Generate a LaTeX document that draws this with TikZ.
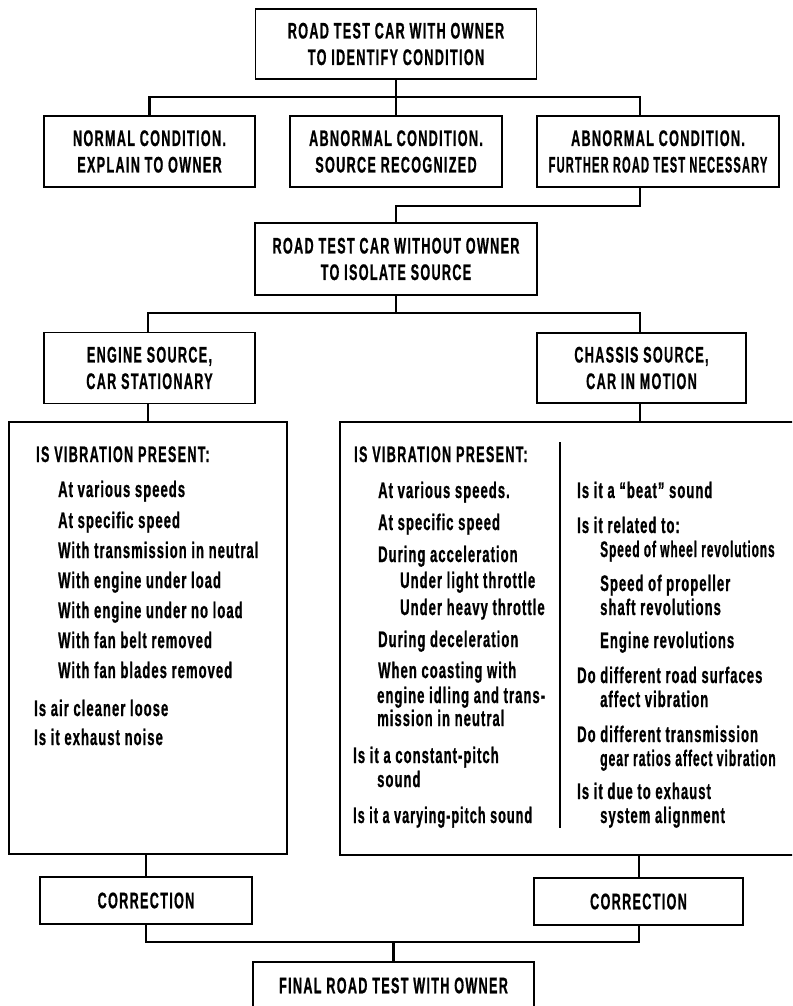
\documentclass[tikz,border=0pt]{standalone}
\usepackage{fontspec}
\usepackage{graphicx}
\setmainfont{Liberation Sans}
\newfontfamily\capsfam{Liberation Sans Bold}[FakeStretch=0.56, LetterSpace=5.9, FakeBold=0.8]
\newfontfamily\lowfam{Liberation Sans Bold}[FakeStretch=0.58, LetterSpace=4.6, FakeBold=0.8]
\newcommand{\capfont}{\capsfam\fontsize{22.5}{26.5}\selectfont}
\newcommand{\lowfont}{\lowfam\fontsize{22.5}{26.5}\selectfont}
\begin{document}
\begin{tikzpicture}[x=1pt,y=-1pt,
  box/.style={draw, line width=1.2pt, inner sep=0pt, align=center, font=\capfont},
  conn/.style={line width=2.4pt, line cap=rect},
  txt/.style={anchor=base west, inner sep=0pt, font=\lowfont},
  captxt/.style={anchor=base west, inner sep=0pt, font=\capfont},
  divider/.style={line width=2.4pt}]
\useasboundingbox (0,0) rectangle (792,1006);
\clip (0,0) rectangle (792,1006);
\fill[white] (0,0) rectangle (792,1006);

% boxes
\node[box, minimum width=281pt, minimum height=70pt] (top) at (396,44) {ROAD TEST CAR WITH OWNER\\TO IDENTIFY CONDITION};
\node[box, minimum width=211pt, minimum height=71pt] (A) at (149.5,151.5) {NORMAL CONDITION.\\EXPLAIN TO OWNER};
\node[box, minimum width=212pt, minimum height=71pt] (B) at (396,151.5) {ABNORMAL CONDITION.\\SOURCE RECOGNIZED};
\node[box, minimum width=242pt, minimum height=71pt] (C) at (658,151.5) {ABNORMAL CONDITION.\\\scalebox{0.88}[1]{FURTHER ROAD TEST NECESSARY}};
\node[box, minimum width=282pt, minimum height=72pt] (mid) at (396,259) {ROAD TEST CAR WITHOUT OWNER\\TO ISOLATE SOURCE};
\node[box, minimum width=211pt, minimum height=71pt] (eng) at (149.5,368) {ENGINE SOURCE,\\CAR STATIONARY};
\node[box, minimum width=209pt, minimum height=70pt] (cha) at (641.5,368) {CHASSIS SOURCE,\\CAR IN MOTION};
\node[box, minimum width=278pt, minimum height=432pt] (lbig) at (148,638) {};
\node[box, minimum width=455pt, minimum height=433pt] (rbig) at (567.5,638.5) {};
\node[box, minimum width=212pt, minimum height=47pt] (corrL) at (146,900.5) {CORRECTION};
\node[box, minimum width=209pt, minimum height=47pt] (corrR) at (638.5,901.5) {CORRECTION};
\node[box, minimum width=281pt, minimum height=47pt] (final) at (393.5,985.5) {FINAL ROAD TEST WITH OWNER};

% junction coordinates
\coordinate (j1) at (396,97);
\coordinate (xc) at (640,0);
\coordinate (j2) at (396,206);
\coordinate (j3) at (396,313);
\coordinate (xl) at (148,0);
\coordinate (xr) at (639,0);
\coordinate (j4) at (393.5,942);

% connectors
\draw[conn] (top.south) -- (j1);
\draw[conn] (A.north) |- (j1);
\draw[conn] (B.north) -- (j1);
\draw[conn] (C.north -| xc) |- (j1);
\draw[conn] (C.south -| xc) |- (j2);
\draw[conn] (j2) -- (mid.north);
\draw[conn] (mid.south) -- (j3);
\draw[conn] (eng.north -| xl) |- (j3);
\draw[conn] (cha.north -| xc) |- (j3);
\draw[conn] (eng.south -| xl) -- (lbig.north -| xl);
\draw[conn] (cha.south -| xc) -- (rbig.north -| xc);
\draw[conn] (lbig.south -| corrL.north) -- (corrL.north);
\draw[conn] (rbig.south -| xr) -- (corrR.north -| xr);
\draw[conn] (corrL.south) |- (j4);
\draw[conn] (corrR.south -| xr) |- (j4);
\draw[conn] (final.north) -- (j4);

% left list
\node[captxt] (l0) at (36,462) {IS VIBRATION PRESENT:};
\node[txt] (l1) at (58,497) {At various speeds};
\node[txt] (l2) at (58,528) {At specific speed};
\node[txt] (l3) at (58,558) {With transmission in neutral};
\node[txt] (l4) at (58,588) {With engine under load};
\node[txt] (l5) at (58,618) {With engine under no load};
\node[txt] (l6) at (58,648) {With fan belt removed};
\node[txt] (l7) at (58,678) {With fan blades removed};
\node[txt] (l8) at (34,716) {Is air cleaner loose};
\node[txt] (l9) at (34,745) {Is it exhaust noise};

% right box, left column
\node[captxt] (r0) at (354,462) {IS VIBRATION PRESENT:};
\node[txt] (r1) at (378,498) {At various speeds.};
\node[txt] (r2) at (378,530) {At specific speed};
\node[txt] (r3) at (378,562) {During acceleration};
\node[txt] (r4) at (400,588) {Under light throttle};
\node[txt] (r5) at (400,615) {Under heavy throttle};
\node[txt] (r6) at (378,647) {During deceleration};
\node[txt] (r7) at (378,678) {When coasting with};
\node[txt] (r8) at (377,703) {engine idling and trans-};
\node[txt] (r9) at (377,726) {mission in neutral};
\node[txt] (r10) at (353,763) {Is it a constant-pitch};
\node[txt] (r11) at (377,787) {sound};
\node[txt] (r12) at (353,823) {\scalebox{0.97}[1]{Is it a varying-pitch sound}};

% divider
\coordinate (dtop) at (560,442);
\coordinate (dbot) at (560,828);
\draw[divider] (dtop) -- (dbot);

% right box, right column
\node[txt] (s0) at (577,498) {Is it a “beat” sound};
\node[txt] (s1) at (577,533) {Is it related to:};
\node[txt] (s2) at (600,557) {\scalebox{0.91}[1]{Speed of wheel revolutions}};
\node[txt] (s3) at (600,591) {Speed of propeller};
\node[txt] (s4) at (600,615) {shaft revolutions};
\node[txt] (s5) at (600,648) {Engine revolutions};
\node[txt] (s6) at (577,683) {Do different road surfaces};
\node[txt] (s7) at (600,707) {affect vibration};
\node[txt] (s8) at (577,742) {Do different transmission};
\node[txt] (s9) at (600,766) {\scalebox{0.93}[1]{gear ratios affect vibration}};
\node[txt] (s10) at (577,799) {Is it due to exhaust};
\node[txt] (s11) at (600,823) {system alignment};
\end{tikzpicture}
\end{document}
